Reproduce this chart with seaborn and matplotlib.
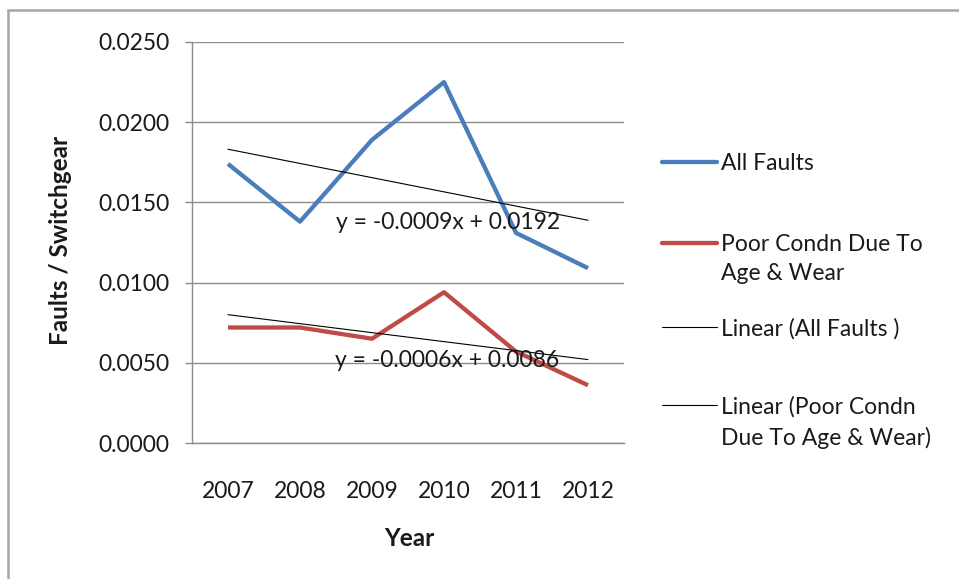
import numpy as np
import pandas as pd
import matplotlib
matplotlib.use("Agg")
import matplotlib.pyplot as plt
from matplotlib.lines import Line2D
from matplotlib.patches import Rectangle
import seaborn as sns

# Fault rates per switchgear by year
years = [2007, 2008, 2009, 2010, 2011, 2012]
all_faults = [0.0174, 0.0138, 0.0189, 0.0225, 0.0131, 0.0109]
poor_condn = [0.0072, 0.0072, 0.0065, 0.0094, 0.0057, 0.0036]
y_ticks = [0.0, 0.005, 0.010, 0.015, 0.020, 0.025]

sns.set_theme(style="white")
plt.rcParams["font.family"] = ["Lato", "DejaVu Sans"]

BLUE = "#4A7EBB"
RED = "#BE4B48"
GRID = "#8C8C8C"
TXT = "#1a1a1a"
FS = 16.5
FSB = 17.5

W, H = 959, 579
fig = plt.figure(figsize=(W / 100, H / 100), dpi=100)
ax = fig.add_axes([192 / W, (H - 443) / H, (624 - 192) / W, 401 / H])

df = pd.DataFrame({"Year": years, "All Faults": all_faults,
                   "Poor Condn Due To Age & Wear": poor_condn})

sns.lineplot(data=df, x="Year", y="All Faults", ax=ax, color=BLUE, lw=3.1,
             solid_capstyle="butt")
sns.lineplot(data=df, x="Year", y="Poor Condn Due To Age & Wear", ax=ax,
             color=RED, lw=3.1, solid_capstyle="butt")

# Linear trendlines fitted on category index 1..n (spreadsheet convention)
idx = np.arange(1, len(years) + 1)
for series, label_y in ((all_faults, 0.01375), (poor_condn, 0.00512)):
    m, b = np.polyfit(idx, series, 1)
    trend = m * idx + b
    sns.lineplot(x=years, y=trend, ax=ax, color="black", lw=0.8)
    sign = "+" if b >= 0 else "-"
    ax.text(2010.05, label_y, f"y = {m:.4f}x {sign} {abs(b):.4f}",
            ha="center", va="center", fontsize=FS, color=TXT)

ax.set_xlim(2006.5, 2012.5)
ax.set_ylim(0, 0.025)
ax.set_yticks(y_ticks)
ax.set_yticklabels([f"{v:.4f}" for v in y_ticks])
ax.set_xticks(years)
ax.set_xticklabels([str(y) for y in years])
ax.yaxis.grid(True, color=GRID, lw=1.0)
ax.xaxis.grid(False)
for s in ("top", "right"):
    ax.spines[s].set_visible(False)
for s in ("left", "bottom"):
    ax.spines[s].set_color(GRID)
    ax.spines[s].set_linewidth(1.0)
ax.tick_params(axis="y", left=True, length=5, width=1.0, color=GRID,
               pad=11, labelsize=FS, labelcolor=TXT)
ax.tick_params(axis="x", bottom=False, pad=21, labelsize=FS, labelcolor=TXT)

ax.set_xlabel("")
ax.set_ylabel("")
fig.text(60 / W, 1 - 240 / H, "Faults / Switchgear", rotation=90,
         ha="center", va="center", fontsize=FSB, fontweight="bold", color=TXT)
fig.text(409 / W, 1 - 538 / H, "Year", ha="center", va="center",
         fontsize=FSB, fontweight="bold", color=TXT)

# Legend, laid out with the sample line beside the first text line
entries = [
    (162, "All Faults", BLUE, 3.1),
    (243, "Poor Condn Due To\nAge & Wear", RED, 3.1),
    (327, "Linear (All Faults )", "black", 0.8),
    (405, "Linear (Poor Condn\nDue To Age & Wear)", "black", 0.8),
]
for ypx, label, col, lw in entries:
    yf = 1 - ypx / H
    fig.add_artist(Line2D([662 / W, 717 / W], [yf, yf], color=col, lw=lw,
                          transform=fig.transFigure))
    fig.text(721 / W, yf + 9 / H, label, ha="left", va="top", fontsize=FS,
             color=TXT, linespacing=1.5)

# Outer chart frame
fig.add_artist(Rectangle((8 / W, -0.1), 1.2, 1.1 - 10 / H,
                         transform=fig.transFigure, fill=False,
                         edgecolor="#A6A6A6", lw=1.8))

fig.savefig("out.png", dpi=100)
